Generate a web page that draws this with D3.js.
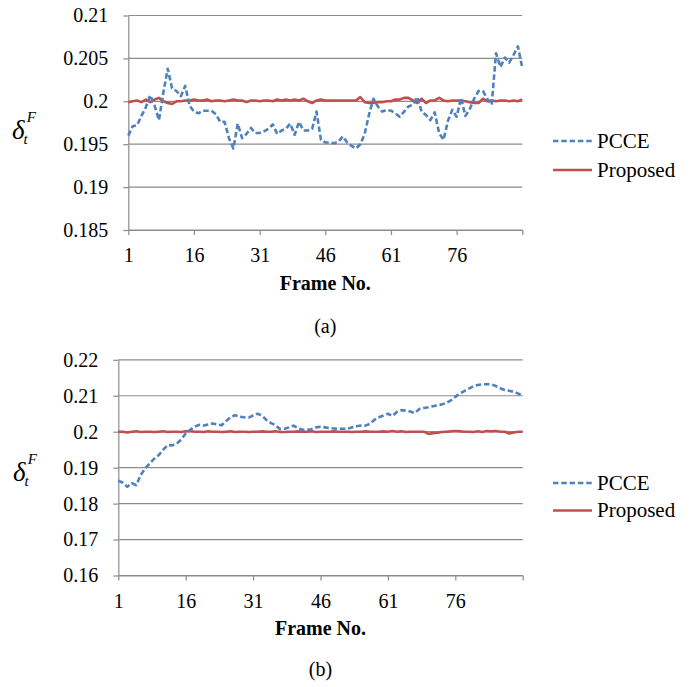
<!DOCTYPE html>
<html>
<head>
<meta charset="utf-8">
<script src="https://cdn.jsdelivr.net/npm/d3@7"></script>
<style>
  body { margin: 0; background: #fff; }
  svg { display: block; }
  svg text { font-family: 'Liberation Serif', 'Times New Roman', Times, 'DejaVu Serif', 'Noto Serif', serif; fill: #000; }
</style>
</head>
<body>
<svg id="chart" width="691" height="687"></svg>
<script>
// Frame axis (category ticks every 15 frames; the last tick carries no label)
const xTickFrames = [1, 16, 31, 46, 61, 76, 91];
const xTickLabels = ["1", "16", "31", "46", "61", "76", ""];

// Panel (a): y ticks and the two series, one value per frame (frames 1..91)
const yTicksA = [0.185, 0.19, 0.195, 0.2, 0.205, 0.21];
const pcceA = [
  0.1960, 0.1971, 0.1972, 0.1983, 0.1993, 0.2007, 0.1995, 0.1978, 0.2010, 0.2038,
  0.2015, 0.2012, 0.2006, 0.2018, 0.1995, 0.1988, 0.1986, 0.1989, 0.1989, 0.1989,
  0.1985, 0.1976, 0.1976, 0.1957, 0.1945, 0.1974, 0.1957, 0.1962, 0.1969, 0.1963,
  0.1963, 0.1965, 0.1968, 0.1973, 0.1962, 0.1966, 0.1968, 0.1974, 0.1961, 0.1976,
  0.1966, 0.1966, 0.1968, 0.1988, 0.1955, 0.1952, 0.1952, 0.1951, 0.1953, 0.1959,
  0.1952, 0.1948, 0.1945, 0.1950, 0.1962, 0.1985, 0.2003, 0.1994, 0.1988, 0.1990,
  0.1989, 0.1986, 0.1982, 0.1988, 0.1994, 0.1996, 0.2005, 0.1988, 0.1984, 0.1978,
  0.1987, 0.1963, 0.1955, 0.1977, 0.1990, 0.1982, 0.2004, 0.1983, 0.1991, 0.2003,
  0.2012, 0.2012, 0.2003, 0.1996, 0.2056, 0.2040, 0.2051, 0.2045, 0.2054, 0.2064,
  0.2039
];
const proposedA = [
  0.1999, 0.2000, 0.2001, 0.1999, 0.2002, 0.1999, 0.2002, 0.2004, 0.2000, 0.1998,
  0.1997, 0.2000, 0.2000, 0.2001, 0.2001, 0.2002, 0.2001, 0.2001, 0.2002, 0.2000,
  0.2001, 0.2001, 0.2000, 0.2001, 0.2002, 0.2001, 0.2001, 0.1999, 0.2001, 0.2001,
  0.2000, 0.2001, 0.2001, 0.2000, 0.2002, 0.2001, 0.2002, 0.2001, 0.2002, 0.2001,
  0.2003, 0.2000, 0.1998, 0.2001, 0.2002, 0.2001, 0.2001, 0.2001, 0.2001, 0.2001,
  0.2001, 0.2001, 0.2001, 0.2005, 0.1999, 0.1998, 0.1998, 0.1999, 0.1999, 0.2000,
  0.2000, 0.2002, 0.2002, 0.2004, 0.2004, 0.2001, 0.1998, 0.2003, 0.1998, 0.2001,
  0.2001, 0.2004, 0.2001, 0.2000, 0.2001, 0.2001, 0.2001, 0.2000, 0.1999, 0.1998,
  0.1998, 0.2003, 0.2000, 0.2001, 0.2000, 0.2001, 0.2001, 0.2000, 0.2001, 0.2000,
  0.2002
];

// Panel (b)
const yTicksB = [0.16, 0.17, 0.18, 0.19, 0.2, 0.21, 0.22];
const pcceB = [
  0.1864, 0.1858, 0.1847, 0.1857, 0.1851, 0.1880, 0.1898, 0.1912, 0.1925, 0.1935,
  0.1950, 0.1963, 0.1962, 0.1967, 0.1978, 0.1995, 0.2005, 0.2014, 0.2019, 0.2017,
  0.2020, 0.2023, 0.2020, 0.2018, 0.2030, 0.2040, 0.2046, 0.2042, 0.2040, 0.2039,
  0.2045, 0.2050, 0.2045, 0.2032, 0.2024, 0.2018, 0.2007, 0.2008, 0.2012, 0.2017,
  0.2010, 0.2005, 0.2005, 0.2007, 0.2012, 0.2014, 0.2012, 0.2010, 0.2009, 0.2008,
  0.2008, 0.2008, 0.2012, 0.2015, 0.2017, 0.2017, 0.2022, 0.2033, 0.2040, 0.2045,
  0.2050, 0.2044, 0.2055, 0.2060, 0.2059, 0.2056, 0.2052, 0.2063, 0.2066, 0.2068,
  0.2071, 0.2073, 0.2076, 0.2080, 0.2087, 0.2097, 0.2106, 0.2113, 0.2120, 0.2126,
  0.2130, 0.2132, 0.2132, 0.2132, 0.2127, 0.2121, 0.2116, 0.2114, 0.2111, 0.2106,
  0.2100
];
const proposedB = [
  0.2000, 0.2000, 0.1998, 0.2000, 0.2001, 0.1999, 0.2000, 0.2000, 0.1999, 0.2000,
  0.2001, 0.1999, 0.2000, 0.2000, 0.1999, 0.2001, 0.2002, 0.2000, 0.2000, 0.1999,
  0.2001, 0.2000, 0.2000, 0.1999, 0.2000, 0.2001, 0.1999, 0.2000, 0.2000, 0.1999,
  0.2000, 0.2000, 0.2001, 0.2000, 0.2000, 0.2001, 0.1999, 0.1999, 0.2000, 0.2000,
  0.2001, 0.2000, 0.2000, 0.2001, 0.1999, 0.2000, 0.2000, 0.2000, 0.2001, 0.2000,
  0.2000, 0.2000, 0.1999, 0.2000, 0.2000, 0.2001, 0.2000, 0.2000, 0.2000, 0.2001,
  0.2000, 0.2002, 0.2000, 0.2001, 0.1999, 0.2000, 0.2000, 0.2000, 0.2000, 0.1994,
  0.1996, 0.1997, 0.1999, 0.2000, 0.2001, 0.2002, 0.2001, 0.2000, 0.2000, 0.1999,
  0.2001, 0.1999, 0.2002, 0.2001, 0.2002, 0.2000, 0.2000, 0.1995, 0.1998, 0.2000,
  0.2000
];

const seriesNames = ["PCCE", "Proposed"];
const BLUE = "#4F81BD", RED = "#C0504D", GRID = "#8C8C8C";
const SERIF = "'Liberation Serif', 'Times New Roman', Times, 'DejaVu Serif', 'Noto Serif', serif";

const svg = d3.select("#chart");

function drawPanel(o) {
  const g = svg.append("g").style("font-family", SERIF);
  const x = d3.scaleLinear().domain([1, 91]).range([o.left, o.right]);
  const y = d3.scaleLinear().domain([o.yTicks[0], o.yTicks[o.yTicks.length - 1]]).range([o.bottom, o.top]);

  // horizontal gridlines
  g.append("g").selectAll("line").data(o.yTicks).join("line")
    .attr("x1", o.left).attr("x2", o.right)
    .attr("y1", d => y(d)).attr("y2", d => y(d))
    .attr("stroke", GRID).attr("stroke-width", 1.2);

  // y axis
  const ya = g.append("g").attr("transform", `translate(${o.left},0)`)
    .call(d3.axisLeft(y).tickValues(o.yTicks).tickFormat(d => String(d))
      .tickSize(5).tickSizeOuter(0).tickPadding(15));
  ya.attr("font-family", null).attr("font-size", null);
  ya.select(".domain").attr("stroke", GRID).attr("stroke-width", 1.2);
  ya.selectAll(".tick line").attr("stroke", GRID).attr("stroke-width", 1.2);
  ya.selectAll(".tick text").style("font-size", "20px").style("font-family", SERIF);

  // x axis
  const xa = g.append("g").attr("transform", `translate(0,${o.bottom})`)
    .call(d3.axisBottom(x).tickValues(xTickFrames).tickFormat((d, i) => xTickLabels[i])
      .tickSize(5).tickSizeOuter(0).tickPadding(13));
  xa.attr("font-family", null).attr("font-size", null);
  xa.select(".domain").attr("stroke", GRID).attr("stroke-width", 1.2);
  xa.selectAll(".tick line").attr("stroke", GRID).attr("stroke-width", 1.2);
  xa.selectAll(".tick text").style("font-size", "20px").style("font-family", SERIF);

  // series
  const line = d3.line().x((d, i) => x(i + 1)).y(d => y(d));
  g.append("path").datum(o.proposed).attr("d", line)
    .attr("fill", "none").attr("stroke", RED).attr("stroke-width", 2.6)
    .attr("stroke-linejoin", "round");
  g.append("path").datum(o.pcce).attr("d", line)
    .attr("fill", "none").attr("stroke", BLUE).attr("stroke-width", 2.6)
    .attr("stroke-dasharray", "5.5,2.8").attr("stroke-linejoin", "round");

  // x axis title
  g.append("text").attr("x", (o.left + o.right) / 2).attr("y", o.bottom + 59.5)
    .attr("text-anchor", "middle").style("font-size", "20px").style("font-weight", "bold")
    .text("Frame No.");

  // y axis title: delta with subscript t and superscript F
  const yl = g.append("text").attr("x", o.yLabelX).attr("y", o.yLabelY)
    .style("font-style", "italic");
  yl.append("tspan").style("font-size", "27px").text("δ");
  yl.append("tspan").style("font-size", "15px").attr("dx", -1).attr("dy", 5).text("t");
  yl.append("tspan").style("font-size", "15px").attr("dx", -1).attr("dy", -22).text("F");

  // caption
  g.append("text").attr("x", (o.left + o.right) / 2).attr("y", o.captionY)
    .attr("text-anchor", "middle").style("font-size", "20px").text(o.caption);

  // legend
  const lg = g.append("g");
  [BLUE, RED].forEach((c, i) => {
    const ly = o.legendY + i * o.legendGap;
    lg.append("line").attr("x1", 553).attr("x2", 592).attr("y1", ly).attr("y2", ly)
      .attr("stroke", c).attr("stroke-width", 2.6)
      .attr("stroke-dasharray", i === 0 ? "5.5,2.8" : null);
    lg.append("text").attr("x", 597).attr("y", ly).attr("dy", "0.33em")
      .style("font-size", "21px").text(seriesNames[i]);
  });
}

drawPanel({
  left: 128.3, right: 522.3, top: 15.5, bottom: 230,
  yTicks: yTicksA, pcce: pcceA, proposed: proposedA,
  yLabelX: 12, yLabelY: 139, captionY: 333, caption: "(a)",
  legendY: 141, legendGap: 29
});

drawPanel({
  left: 118.3, right: 522.7, top: 359.8, bottom: 575.5,
  yTicks: yTicksB, pcce: pcceB, proposed: proposedB,
  yLabelX: 13, yLabelY: 481, captionY: 676, caption: "(b)",
  legendY: 483, legendGap: 27.5
});
</script>
</body>
</html>
